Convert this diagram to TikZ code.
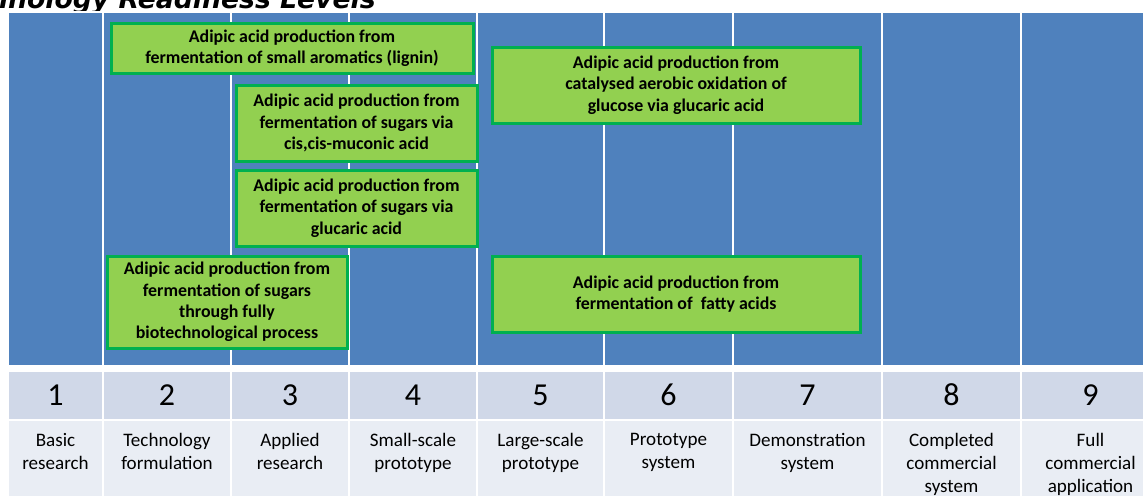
\documentclass[tikz,border=0pt]{standalone}
\usepackage{fontspec}
\setmainfont{Carlito}
\newfontfamily\headfont{DejaVu Sans}
\definecolor{trlBlue}{HTML}{4F81BD}
\definecolor{trlNum}{HTML}{D0D8E8}
\definecolor{trlText}{HTML}{E9EDF4}
\definecolor{routeFill}{HTML}{92D050}
\definecolor{routeEdge}{HTML}{00B050}

\begin{document}
\begin{tikzpicture}[
  x=0.75pt, y=-0.75pt,
  bar/.style={draw=white, line width=1.5pt, fill=trlBlue, minimum height=265.5pt, inner sep=0pt},
  numcell/.style={draw=white, line width=1.5pt, fill=trlNum, minimum height=36.75pt, inner sep=0pt,
                  font=\fontsize{24}{28}\selectfont},
  txtcell/.style={draw=white, line width=1.5pt, fill=trlText, minimum height=60.4pt, inner sep=0pt},
  txt/.style={anchor=north, inner sep=0pt, align=center, font=\fontsize{14.3}{17.5}\selectfont},
  route/.style={draw=routeEdge, line width=2.25pt, fill=routeFill, align=center, inner sep=0pt,
                font=\bfseries\fontsize{13.4}{16}\selectfont}
]
\useasboundingbox (0,0) rectangle (1143,496);
\clip (0,0) rectangle (1143,496);

\node[anchor=base east, inner sep=0pt, font=\headfont\bfseries\itshape\fontsize{20}{24}\selectfont]
  (title) at (376,8) {Technology Readiness Levels};

\foreach \n/\a/\b/\txt in {
  1/8/103/{Basic\\research},
  2/103/231/{Technology\\formulation},
  3/231/349/{Applied\\research},
  4/349/477/{Small-scale\\prototype},
  5/477/604/{Large-scale\\prototype},
  6/604/733/{Prototype\\system},
  7/733/882/{Demonstration\\system},
  8/882/1021/{Completed\\commercial\\system},
  9/1021/1160/{Full\\commercial\\application}}
{
  \node[bar, minimum width={(\b-\a)*0.75pt}] (bar\n) at ({(\a+\b)/2},189) {};
  \node[numcell, minimum width={(\b-\a)*0.75pt}] (num\n) at ({(\a+\b)/2},395) {\n};
  \node[txtcell, minimum width={(\b-\a)*0.75pt}] (cell\n) at ({(\a+\b)/2},460) {};
  \node[txt] (txt\n) at ([yshift=-10.5pt]cell\n.north) {\txt};
}

\node[route, minimum width=271.5pt, minimum height=37.5pt] (lignin) at (292,48)
  {Adipic acid production from\\fermentation of small aromatics (lignin)};
\node[route, minimum width=180.75pt, minimum height=57pt] (muconic) at (356.5,123)
  {Adipic acid production from\\fermentation of sugars via\\cis,cis-muconic acid};
\node[route, minimum width=180.75pt, minimum height=57pt] (glucaric) at (356.5,208)
  {Adipic acid production from\\fermentation of sugars via\\glucaric acid};
\node[route, minimum width=180pt, minimum height=69pt] (biotech) at (227,302)
  {Adipic acid production from\\fermentation of sugars\\through fully\\biotechnological process};
\node[route, minimum width=276pt, minimum height=57pt] (oxidation) at (676,85)
  {Adipic acid production from\\catalysed aerobic oxidation of\\glucose via glucaric acid};
\node[route, minimum width=276pt, minimum height=57pt] (fatty) at (676,294)
  {Adipic acid production from\\fermentation of\ \ fatty acids};
\end{tikzpicture}
\end{document}
